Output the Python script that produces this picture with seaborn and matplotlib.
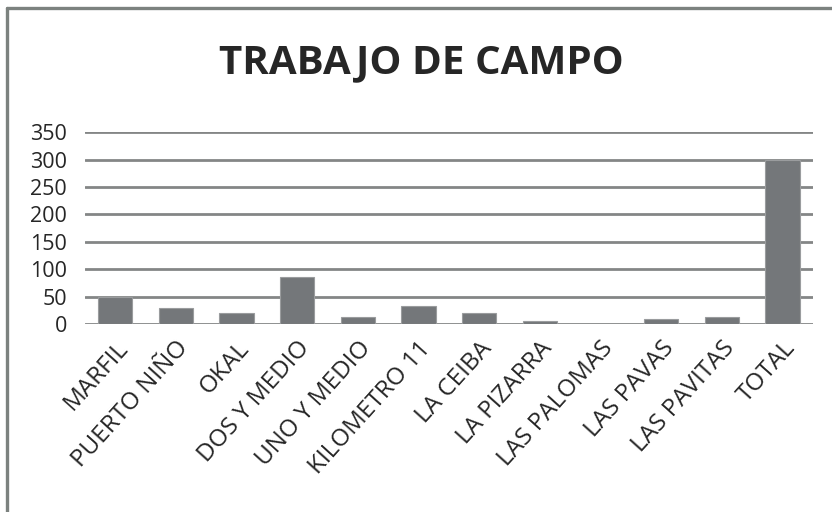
import matplotlib
matplotlib.use("Agg")
import matplotlib.pyplot as plt
from matplotlib.lines import Line2D
import seaborn as sns
import pandas as pd

# values
lugares = ['MARFIL', 'PUERTO NIÑO', 'OKAL', 'DOS Y MEDIO', 'UNO Y MEDIO',
           'KILOMETRO 11', 'LA CEIBA', 'LA PIZARRA', 'LAS PALOMAS',
           'LAS PAVAS', 'LAS PAVITAS', 'TOTAL']
cantidad = [50, 29, 21, 86, 13, 33, 21, 5, 0, 9, 13, 300]
y_ticks = [0, 50, 100, 150, 200, 250, 300, 350]

df = pd.DataFrame({'lugar': lugares, 'cantidad': cantidad})

sns.set_theme(style='white')
plt.rcParams['font.family'] = ['Open Sans', 'DejaVu Sans']

fig = plt.figure(figsize=(8.32, 5.12), dpi=100)
ax = fig.add_axes([0.102, 0.367, 0.875, 0.375])

# gridlines behind bars
for v in y_ticks:
    ax.axhline(v, color='#848686', linewidth=2.0, zorder=0)

sns.barplot(data=df, x='lugar', y='cantidad', color='#74777a', width=0.57,
            saturation=1, edgecolor='#9a9c9e', linewidth=0.8, ax=ax, zorder=2)

ax.set_ylim(0, 350)
ax.set_xlim(-0.5, len(lugares) - 0.5)
ax.set_yticks(y_ticks)
ax.set_yticklabels([str(v) for v in y_ticks], fontsize=15.5)
ax.tick_params(axis='y', length=0, pad=13)
ax.tick_params(axis='x', length=0, pad=9)
ax.set_xticks(range(len(lugares)))
ax.set_xticklabels(lugares, rotation=48, ha='right', rotation_mode='anchor',
                   fontsize=17.5)
ax.set_xlabel('')
ax.set_ylabel('')
for s in ax.spines.values():
    s.set_visible(False)

fig.text(0.507, 0.877, 'TRABAJO DE CAMPO', ha='center', va='center',
         fontsize=29, fontweight='bold')

# chart area border (left and top only visible)
fig.add_artist(Line2D([0.0085, 0.0085], [0, 0.984], transform=fig.transFigure,
                      color='#7c827f', linewidth=2.4))
fig.add_artist(Line2D([0.0085, 1], [0.984, 0.984], transform=fig.transFigure,
                      color='#7c827f', linewidth=2.4))

fig.savefig('out.png', dpi=100)
